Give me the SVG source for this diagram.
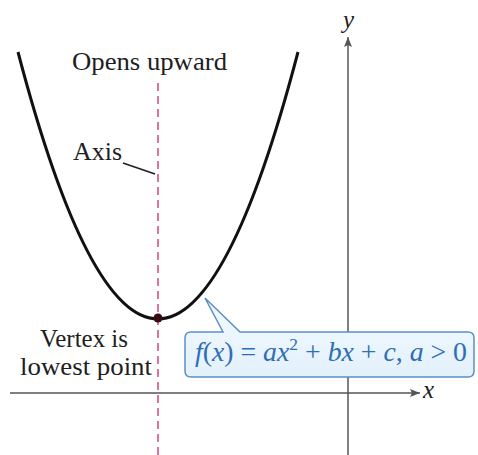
<svg xmlns="http://www.w3.org/2000/svg" width="478" height="455" viewBox="0 0 478 455">
<defs>
<style>
.lbl{font-family:'Liberation Serif','Times New Roman',Tinos,Times,serif;font-size:25px;fill:#1e1e1e}
.axis{stroke:#555;stroke-width:1.5;fill:none}
.eq{font-family:'Liberation Serif','Times New Roman',Tinos,Times,serif;font-size:27px;fill:#2f6db5}
.it{font-style:italic}
</style>
<marker id="arr" viewBox="0 0 10 8" refX="10" refY="4" markerWidth="11" markerHeight="8" markerUnits="userSpaceOnUse" orient="auto">
<path d="M0,0 L10,4 L0,8 L2,4 Z" fill="#555"/>
</marker>
<linearGradient id="bg" x1="0" y1="0" x2="0" y2="1">
<stop offset="0" stop-color="#f3faff"/>
<stop offset="1" stop-color="#e3f1fb"/>
</linearGradient>
</defs>
<rect width="478" height="455" fill="#fff"/>
<g id="connectors">
<line class="axis" x1="10" y1="393" x2="420" y2="393" marker-end="url(#arr)"/>
<line class="axis" x1="348" y1="455" x2="348" y2="37" marker-end="url(#arr)"/>
<line x1="158" y1="83" x2="158" y2="455" stroke="#d0487f" stroke-width="1.5" stroke-dasharray="8,5"/>
<line x1="123" y1="163" x2="155" y2="174" stroke="#222" stroke-width="1.8"/>
</g>
<g id="parabola">
<path d="M18,52 Q158,586 298,52" fill="none" stroke="#111" stroke-width="3"/>
<circle cx="158" cy="318" r="4.5" fill="#3a0a14"/>
</g>
<g id="callout">
<path d="M191,332 H223 L205,298 L240,332 H468 Q474,332 474,338 V371 Q474,377 468,377 H191 Q185,377 185,371 V338 Q185,332 191,332 Z" fill="url(#bg)" stroke="#5a8fc8" stroke-width="1.5"/>
<text class="eq" font-family="Liberation Serif" x="195" y="361" textLength="272" lengthAdjust="spacingAndGlyphs"><tspan class="it">f</tspan>(<tspan class="it">x</tspan>) = <tspan class="it">ax</tspan><tspan font-size="17" dy="-11">2</tspan><tspan dy="11"> + </tspan><tspan class="it">bx</tspan> + <tspan class="it">c</tspan>, <tspan class="it">a</tspan> &gt; 0</text>
</g>
<g id="labels">
<text class="lbl" font-family="Liberation Serif" x="72" y="70" textLength="155" lengthAdjust="spacingAndGlyphs">Opens upward</text>
<text class="lbl" font-family="Liberation Serif" x="73" y="160" textLength="49" lengthAdjust="spacingAndGlyphs">Axis</text>
<text class="lbl" font-family="Liberation Serif" x="40" y="347" textLength="88" lengthAdjust="spacingAndGlyphs">Vertex is</text>
<text class="lbl" font-family="Liberation Serif" x="20" y="375" textLength="132" lengthAdjust="spacingAndGlyphs">lowest point</text>
<text class="lbl it" font-family="Liberation Serif" x="343" y="28" font-size="20">y</text>
<text class="lbl it" font-family="Liberation Serif" x="423" y="398" font-size="20">x</text>
</g>
</svg>
